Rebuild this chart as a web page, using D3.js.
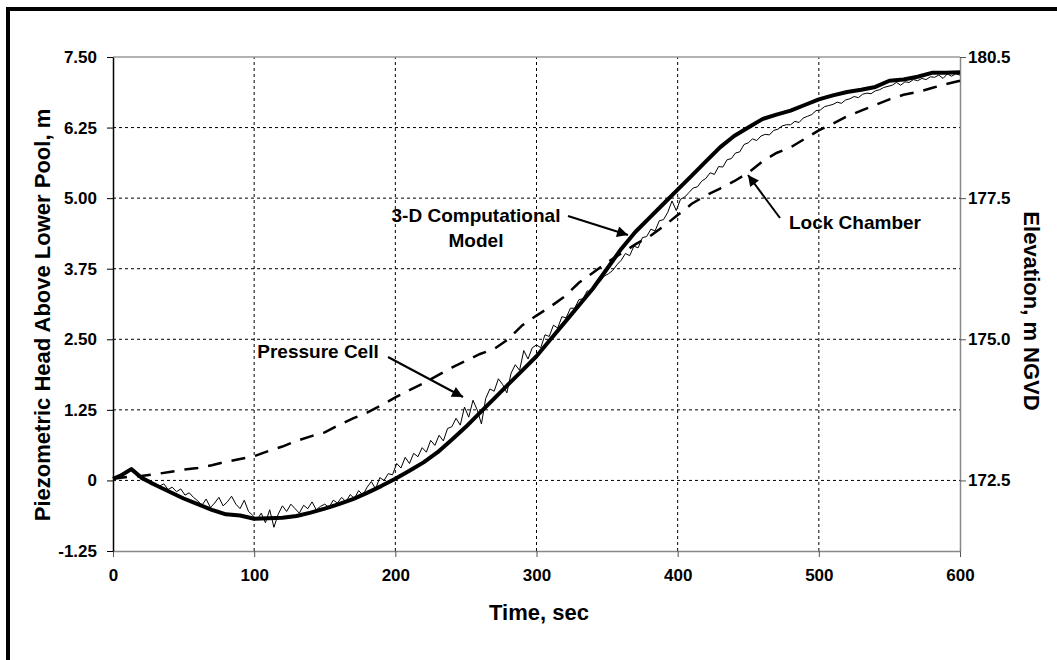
<!DOCTYPE html>
<html>
<head>
<meta charset="utf-8">
<script src="https://cdn.jsdelivr.net/npm/d3@7"></script>
<style>
  body { margin: 0; background: #fff; }
  svg text { font-family: "Liberation Sans", Arial, sans-serif; font-weight: bold; fill: #000; }
</style>
</head>
<body>
<svg id="chart"></svg>
<script>
// 3-D model (thick line)
const modelTime = [0, 5, 13, 20, 30, 40, 50, 60, 70, 80, 90, 100, 110, 120, 130, 140, 150, 160, 170, 180,
  190, 200, 210, 220, 230, 240, 250, 260, 270, 280, 290, 300, 310, 320, 330, 340, 350, 360, 370, 380,
  390, 400, 410, 420, 430, 440, 450, 460, 470, 480, 490, 500, 510, 520, 530, 540, 550, 560, 570, 580, 590, 600];
const modelHead = [0.03, 0.08, 0.2, 0.05, -0.08, -0.2, -0.32, -0.42, -0.52, -0.6, -0.62, -0.68, -0.67, -0.66, -0.63, -0.57, -0.5, -0.42, -0.33, -0.22,
  -0.1, 0.03, 0.17, 0.32, 0.5, 0.72, 0.95, 1.2, 1.45, 1.7, 1.95, 2.2, 2.5, 2.8, 3.1, 3.4, 3.75, 4.1, 4.4, 4.65,
  4.9, 5.15, 5.4, 5.65, 5.9, 6.1, 6.25, 6.4, 6.48, 6.55, 6.65, 6.75, 6.82, 6.88, 6.92, 6.97, 7.08, 7.1, 7.15, 7.22, 7.22, 7.23];

// lock chamber (dashed line)
const lockTime = d3.range(0, 601, 10);
const lockHead = [0.03, 0.06, 0.08, 0.11, 0.15, 0.19, 0.22, 0.27, 0.33, 0.38, 0.43, 0.52, 0.6, 0.7, 0.78, 0.85, 0.98, 1.1, 1.2, 1.33,
  1.47, 1.6, 1.72, 1.86, 2.0, 2.12, 2.24, 2.33, 2.5, 2.75, 2.92, 3.08, 3.26, 3.5, 3.68, 3.86, 4.02, 4.18, 4.32, 4.5,
  4.7, 4.9, 5.05, 5.17, 5.3, 5.45, 5.65, 5.8, 5.9, 6.05, 6.2, 6.32, 6.45, 6.55, 6.65, 6.75, 6.83, 6.88, 6.95, 7.02, 7.08];

// pressure cell (thin noisy line), one reading every 3 s
const cellStep = 3;
const cellHead = [
  0.02, 0.08, 0.06, 0.16, 0.21, 0.15, 0.12, 0.0, 0.02, -0.08,
  -0.05, -0.1, -0.06, -0.16, -0.12, -0.2, -0.15, -0.26, -0.22, -0.3,
  -0.36, -0.44, -0.33, -0.48, -0.4, -0.3, -0.45, -0.38, -0.28, -0.42,
  -0.5, -0.35, -0.55, -0.62, -0.7, -0.58, -0.75, -0.52, -0.83, -0.6,
  -0.45, -0.55, -0.42, -0.5, -0.58, -0.44, -0.5, -0.38, -0.52, -0.46,
  -0.42, -0.48, -0.35, -0.4, -0.3, -0.38, -0.25, -0.32, -0.18, -0.26,
  -0.12, -0.02, -0.15, 0.05, 0.0, 0.12, 0.1, 0.3, 0.22, 0.41,
  0.3, 0.48, 0.42, 0.58, 0.5, 0.71, 0.62, 0.8, 0.7, 0.92,
  0.95, 1.1, 0.98, 1.3, 1.12, 1.42, 1.25, 1.0, 1.45, 1.62,
  1.58, 1.8, 1.7, 1.55, 1.9, 2.05, 1.95, 2.3, 2.15, 2.35,
  2.4, 2.35, 2.58, 2.55, 2.75, 2.7, 2.9, 2.88, 3.05, 3.05,
  3.2, 3.22, 3.36, 3.33, 3.5, 3.52, 3.62, 3.66, 3.72, 3.82,
  3.9, 4.02, 3.98, 4.15, 4.12, 4.3, 4.32, 4.45, 4.42, 4.6,
  4.62, 4.75, 4.95, 4.78, 4.98, 5.02, 5.1, 5.18, 5.2, 5.3,
  5.35, 5.45, 5.42, 5.56, 5.55, 5.68, 5.7, 5.8, 5.82, 5.95,
  5.98, 6.05, 6.02, 6.1, 6.13, 6.12, 6.2, 6.22, 6.28, 6.3,
  6.3, 6.36, 6.34, 6.42, 6.45, 6.48, 6.55, 6.56, 6.62, 6.64,
  6.66, 6.7, 6.68, 6.74, 6.76, 6.8, 6.78, 6.84, 6.86, 6.85,
  6.9, 6.92, 6.96, 6.98, 7.0, 7.05, 7.0, 7.06, 7.05, 7.1,
  7.08, 7.12, 7.1, 7.15, 7.14, 7.18, 7.12, 7.2, 7.16, 7.2,
  7.18];

const xTicks = [0, 100, 200, 300, 400, 500, 600];
const yTicks = [-1.25, 0, 1.25, 2.5, 3.75, 5, 6.25, 7.5];
const yGrid = [0, 1.25, 2.5, 3.75, 5, 6.25];
const rightTickPos = [0, 2.5, 5, 7.5];
const rightTickLabels = ['172.5', '175.0', '177.5', '180.5'];

const W = 1057, H = 660;
const mg = { top: 57, right: 97, bottom: 109, left: 113 };

const svg = d3.select('#chart').attr('width', W).attr('height', H);

const x = d3.scaleLinear().domain([0, 600]).range([mg.left, W - mg.right]);
const y = d3.scaleLinear().domain([-1.25, 7.5]).range([H - mg.bottom, mg.top]);

// outer frame (only top/left edges fall inside the picture)
svg.append('rect').attr('x', 8).attr('y', 9).attr('width', W + 20).attr('height', H + 20)
  .attr('fill', 'none').attr('stroke', '#000').attr('stroke-width', 4);

// grid
svg.append('g').selectAll('line').data(yGrid).join('line')
  .attr('x1', x(0)).attr('x2', x(600)).attr('y1', d => y(d)).attr('y2', d => y(d))
  .attr('stroke', '#000').attr('stroke-width', 1).attr('stroke-dasharray', '3,3');
svg.append('g').selectAll('line').data(xTicks.slice(1, -1)).join('line')
  .attr('x1', d => x(d)).attr('x2', d => x(d)).attr('y1', y(-1.25)).attr('y2', y(7.5))
  .attr('stroke', '#000').attr('stroke-width', 1).attr('stroke-dasharray', '3,3');

// top border of plot
svg.append('line').attr('x1', x(0)).attr('x2', x(600)).attr('y1', y(7.5)).attr('y2', y(7.5))
  .attr('stroke', '#999').attr('stroke-width', 1.5);

// axes
const xAxis = svg.append('g').attr('transform', `translate(0,${y(-1.25)})`)
  .call(d3.axisBottom(x).tickValues(xTicks).tickSize(6).tickSizeOuter(0).tickPadding(12));
xAxis.select('.domain').attr('stroke', '#888').attr('stroke-width', 1.5);
xAxis.selectAll('.tick line').attr('stroke', '#555');
xAxis.selectAll('text').attr('font-size', 17);

const yAxis = svg.append('g').attr('transform', `translate(${x(0)},0)`)
  .call(d3.axisLeft(y).tickValues(yTicks).tickSize(6).tickSizeOuter(0).tickPadding(10)
    .tickFormat(d => d === 0 ? '0' : d.toFixed(2)));
yAxis.select('.domain').attr('stroke', '#000').attr('stroke-width', 1.5);
yAxis.selectAll('text').attr('font-size', 17);

const rAxis = svg.append('g').attr('transform', `translate(${x(600)},0)`)
  .call(d3.axisRight(y).tickValues(rightTickPos).tickSize(6).tickSizeOuter(0).tickPadding(2)
    .tickFormat((d, i) => rightTickLabels[i]));
rAxis.select('.domain').attr('stroke', '#888').attr('stroke-width', 1.5);
rAxis.selectAll('.tick line').attr('stroke', '#555');
rAxis.selectAll('text').attr('font-size', 17);

// series
const line = d3.line().x(d => x(d[0])).y(d => y(d[1]));

svg.append('path').datum(lockTime.map((t, i) => [t, lockHead[i]]))
  .attr('d', line).attr('fill', 'none').attr('stroke', '#000')
  .attr('stroke-width', 2.5).attr('stroke-dasharray', '14,10');

svg.append('path').datum(cellHead.map((v, i) => [i * cellStep, v]))
  .attr('d', line).attr('fill', 'none').attr('stroke', '#000').attr('stroke-width', 1);

svg.append('path').datum(modelTime.map((t, i) => [t, modelHead[i]]))
  .attr('d', line).attr('fill', 'none').attr('stroke', '#000')
  .attr('stroke-width', 4).attr('stroke-linejoin', 'round');

// axis titles
svg.append('text').attr('x', 539).attr('y', 620).attr('text-anchor', 'middle')
  .attr('font-size', 22).text('Time, sec');
svg.append('text').attr('transform', 'translate(50,315) rotate(-90)').attr('text-anchor', 'middle')
  .attr('font-size', 22).text('Piezometric Head Above Lower Pool, m');
svg.append('text').attr('transform', 'translate(1024,311) rotate(90)').attr('text-anchor', 'middle')
  .attr('font-size', 22).text('Elevation, m NGVD');

// annotations
const defs = svg.append('defs');
defs.append('marker').attr('id', 'arrow').attr('viewBox', '0 0 10 10')
  .attr('refX', 10).attr('refY', 5).attr('markerWidth', 16).attr('markerHeight', 11)
  .attr('markerUnits', 'userSpaceOnUse').attr('orient', 'auto')
  .append('path').attr('d', 'M0,0L10,5L0,10Z').attr('fill', '#000');

const notes = [
  { lines: ['3-D Computational', 'Model'], tx: 476, ty: 222, from: [568, 216], to: [628, 235] },
  { lines: ['Lock Chamber'], tx: 855, ty: 229, from: [780, 218], to: [748, 175] },
  { lines: ['Pressure Cell'], tx: 318, ty: 358, from: [388, 357], to: [463, 397] }
];
notes.forEach(n => {
  n.lines.forEach((s, i) => {
    svg.append('text').attr('x', n.tx).attr('y', n.ty + i * 25).attr('text-anchor', 'middle')
      .attr('font-size', 19).text(s);
  });
  svg.append('line').attr('x1', n.from[0]).attr('y1', n.from[1]).attr('x2', n.to[0]).attr('y2', n.to[1])
    .attr('stroke', '#000').attr('stroke-width', 2).attr('marker-end', 'url(#arrow)');
});
</script>
</body>
</html>
